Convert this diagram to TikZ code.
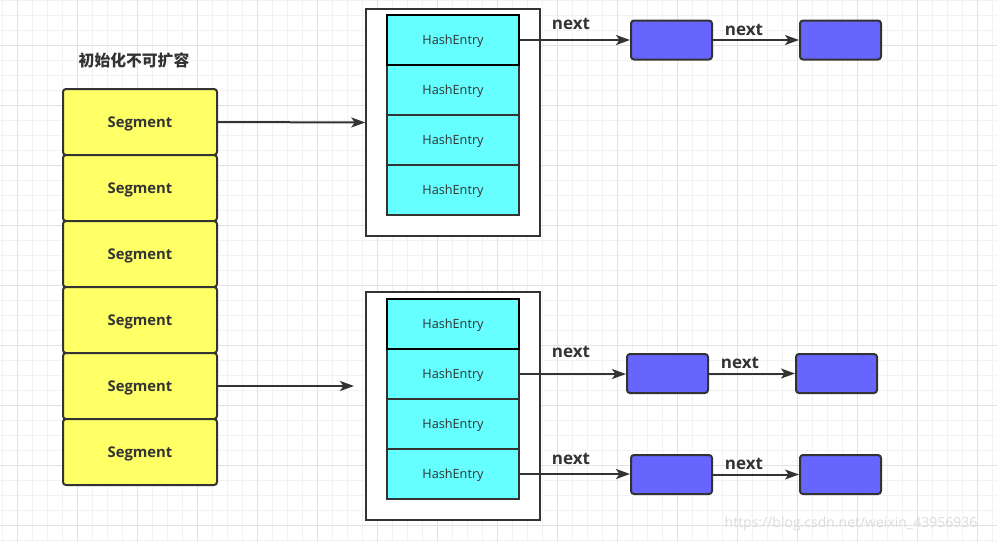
\documentclass[tikz,border=0pt]{standalone}
\usepackage{fontspec}
\setmainfont{Open Sans}
\newfontfamily\cjk{Noto Sans CJK SC}
\usetikzlibrary{arrows.meta}

\definecolor{segyellow}{HTML}{FFFF66}
\definecolor{entrycyan}{HTML}{66FFFF}
\definecolor{nodeblue}{HTML}{6666FF}
\definecolor{inkgrey}{HTML}{333333}
\definecolor{gridminor}{HTML}{F2F2F2}
\definecolor{gridmajor}{HTML}{E2E2E2}
\definecolor{markgrey}{HTML}{DCDCDC}

\tikzset{
  segbox/.style={draw=inkgrey, line width=2pt, fill=segyellow, rounded corners=3pt,
    minimum width=154pt, minimum height=66pt, inner sep=0pt,
    text height=10.6pt, text depth=0pt,
    font=\bfseries\fontsize{14.8}{17}\selectfont, text=inkgrey},
  entrybox/.style={draw=inkgrey, line width=2pt, fill=entrycyan,
    minimum width=132pt, minimum height=50pt, inner sep=0pt,
    text height=9pt, text depth=0pt,
    font=\fontsize{12.7}{15}\selectfont, text=inkgrey},
  firstentry/.style={entrybox, draw=black},
  holder/.style={draw=inkgrey, line width=1.5pt, fill=white,
    minimum width=174pt, inner sep=0pt},
  chainbox/.style={draw=inkgrey, line width=2pt, fill=nodeblue, rounded corners=3pt,
    minimum width=81pt, minimum height=39pt, inner sep=0pt},
  link/.style={draw=inkgrey, line width=2pt, -{Stealth[length=14pt,width=10pt,inset=3.5pt]}},
  nextlabel/.style={font=\bfseries\fontsize{17}{20}\selectfont, text=inkgrey, inner sep=0pt},
}

\begin{document}
\begin{tikzpicture}[x=1pt, y=-1pt]
    \useasboundingbox (0,0) rectangle (997,542);
    \fill[white] (0,0) rectangle (997,542);
    % grid
    \foreach \gx in {2,17,...,992} \draw[gridminor, line width=1pt] (\gx,0) -- (\gx,542);
    \foreach \gy in {0,15,...,540} \draw[gridminor, line width=1pt] (0,\gy) -- (997,\gy);
    \foreach \gx in {17,77,...,977} \draw[gridmajor, line width=1pt] (\gx,0) -- (\gx,542);
    \foreach \gy in {45,105,...,525} \draw[gridmajor, line width=1pt] (0,\gy) -- (997,\gy);

    \node [font=\cjk\bfseries\fontsize{15.8}{17}\selectfont, text=inkgrey] (title) at (134,60) {初始化不可扩容};

    % segments
    \foreach \i/\sy in {1/122,2/188,3/254,4/320,5/386,6/452}
        \node [segbox] (seg\i) at (140,\sy) {Segment};

    % tables
    \node [holder, minimum height=227pt] (tabA) at (453,122.5) {};
    \node [holder, minimum height=228pt] (tabB) at (453,406) {};
    \foreach \i/\ey in {2/90,3/140,4/190}
        \node [entrybox] (a\i) at (453,\ey) {HashEntry};
    \node [firstentry] (a1) at (453,40) {HashEntry};
    \foreach \i/\ey in {2/374,3/424,4/474}
        \node [entrybox] (b\i) at (453,\ey) {HashEntry};
    \node [firstentry] (b1) at (453,324) {HashEntry};

    \coordinate (seg5tip) at (354,386);
    \draw [link] (seg1.east) -- (tabA.west);
    \draw [link] (seg5.east) -- (seg5tip);

    % chains
    \node [chainbox] (ca1) at (671.5,40) {};
    \node [chainbox] (ca2) at (840.5,40) {};
    \node [chainbox] (cb1) at (667.5,373.5) {};
    \node [chainbox] (cb2) at (836.5,373.5) {};
    \node [chainbox] (cc1) at (671.5,474.5) {};
    \node [chainbox] (cc2) at (840.5,474.5) {};

    \draw [link] (a1.east) -- (ca1.west);
    \draw [link] (ca1.east) -- (ca2.west);
    \draw [link] (b2.east) -- (cb1.west |- b2.east);
    \draw [link] (cb1.east) -- (cb2.west);
    \draw [link] (b4.east) -- (cc1.west |- b4.east);
    \draw [link] (cc1.east) -- (cc2.west);

    \node [nextlabel] (na1) at (571,24) {next};
    \node [nextlabel] (na2) at (744,30) {next};
    \node [nextlabel] (nb1) at (571,352) {next};
    \node [nextlabel] (nb2) at (740,363) {next};
    \node [nextlabel] (nc1) at (571,459) {next};
    \node [nextlabel] (nc2) at (744,464) {next};

    \node [font=\fontsize{14}{16}\selectfont, text=markgrey] (mark) at (851,524) {https://blog.csdn.net/weixin\_43956936};
\end{tikzpicture}
\end{document}
